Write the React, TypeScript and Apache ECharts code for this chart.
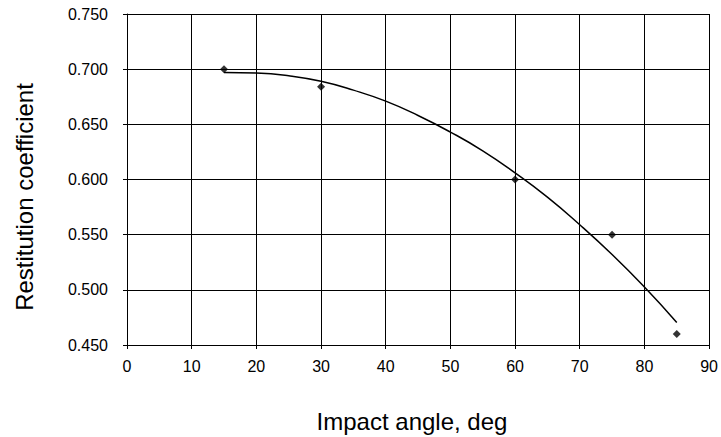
import React, { useEffect, useRef } from "react";
import * as echarts from "echarts";

// Measured points
const anglesDeg = [15, 30, 60, 75, 85];
const restitution = [0.7, 0.684, 0.6, 0.55, 0.46];

// Trend line
const trendAngles = [15, 20, 25, 30, 35, 40, 45, 50, 55, 60, 65, 70, 75, 80, 85];
const trendValues = [0.697, 0.6965, 0.694, 0.689, 0.681, 0.671, 0.658, 0.643, 0.626, 0.606, 0.584, 0.559, 0.532, 0.5025, 0.4705];

const xTitle = "Impact angle, deg";
const yTitle = "Restitution coefficient";

const FONT = '"Liberation Sans", Arial, Helvetica, sans-serif';

export default function App() {
  const ref = useRef<HTMLDivElement>(null);

  useEffect(() => {
    if (!ref.current) return;
    const chart = echarts.init(ref.current, undefined, { renderer: "svg" });
    const points = anglesDeg.map((a, i) => [a, restitution[i]]);
    const trend = trendAngles.map((a, i) => [a, trendValues[i]]);
    chart.setOption({
      animation: false,
      backgroundColor: "#ffffff",
      textStyle: { fontFamily: FONT },
      grid: { left: 127, right: 10, top: 14, bottom: 92, show: false },
      xAxis: {
        type: "value",
        min: 0,
        max: 90,
        interval: 10,
        axisLine: { show: true, lineStyle: { color: "#000", width: 1 } },
        axisTick: { show: true, inside: false, length: 4, lineStyle: { color: "#000" } },
        axisLabel: { color: "#000", fontSize: 16, fontFamily: FONT, margin: 13, showMaxLabel: true },
        splitLine: { show: true, lineStyle: { color: "#000", width: 1 } },
      },
      yAxis: {
        type: "value",
        min: 0.45,
        max: 0.75,
        interval: 0.05,
        axisLine: { show: true, lineStyle: { color: "#000", width: 1 } },
        axisTick: { show: true, inside: false, length: 4, lineStyle: { color: "#000" } },
        axisLabel: {
          color: "#000",
          fontSize: 16,
          fontFamily: FONT,
          margin: 19,
          formatter: (v: number) => v.toFixed(3),
        },
        splitLine: { show: true, lineStyle: { color: "#000", width: 1 } },
      },
      graphic: [
        {
          type: "text",
          x: 412,
          y: 421,
          style: {
            text: xTitle,
            fill: "#000",
            fontSize: 24,
            fontFamily: FONT,
            textAlign: "center",
            textVerticalAlign: "middle",
            align: "center",
            verticalAlign: "middle",
          },
        },
        {
          type: "text",
          x: 24.4,
          y: 197,
          rotation: Math.PI / 2,
          style: {
            text: yTitle,
            fill: "#000",
            fontSize: 24,
            fontFamily: FONT,
            textAlign: "center",
            textVerticalAlign: "middle",
            align: "center",
            verticalAlign: "middle",
          },
        },
      ],
      series: [
        {
          type: "line",
          data: trend,
          smooth: true,
          showSymbol: false,
          symbol: "none",
          lineStyle: { color: "#000", width: 1.5 },
          z: 2,
        },
        {
          type: "scatter",
          data: points,
          symbol: "diamond",
          symbolSize: 8,
          itemStyle: { color: "#000" },
          z: 3,
        },
      ],
    });
    return () => chart.dispose();
  }, []);

  return (
    <div
      ref={ref}
      style={{ position: "fixed", left: 0, top: 0, width: 721, height: 437 }}
    />
  );
}
